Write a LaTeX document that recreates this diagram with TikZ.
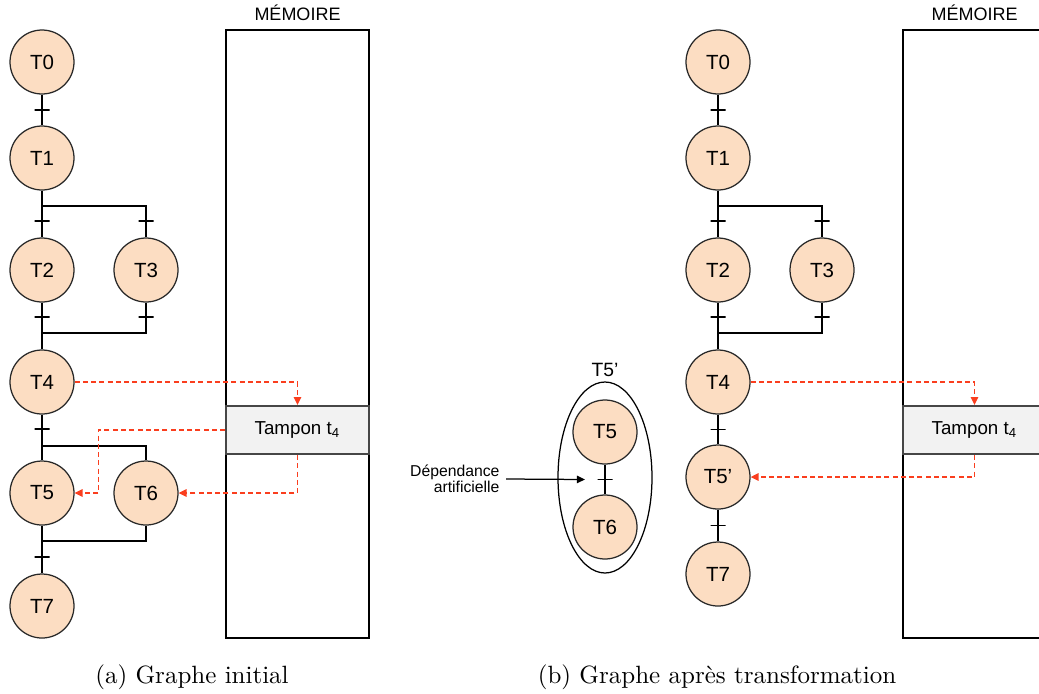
\documentclass[tikz,border=0pt]{standalone}
\usepackage{fontspec}
\newfontfamily\arial{Liberation Sans}
\usetikzlibrary{shapes.geometric,arrows.meta}

\definecolor{peche}{RGB}{252,221,194}
\definecolor{rougeflux}{RGB}{250,62,30}
\definecolor{grisfond}{RGB}{242,242,242}
\definecolor{grisbord}{RGB}{70,70,70}
\definecolor{bordtache}{RGB}{40,40,40}

\begin{document}
\begin{tikzpicture}[x=0.4pt, y=-0.4pt, node distance=44.8pt,
  tache/.style={draw=bordtache, fill=peche, circle, minimum size=25.6pt, inner sep=0pt, line width=0.5pt, font=\arial\fontsize{8.2}{9.8}\selectfont},
  barre/.style={draw, minimum width=6pt, minimum height=0pt, inner sep=0pt, line width=0.5pt},
  lien/.style={line width=0.5pt},
  memoire/.style={draw, line width=0.6pt, minimum width=57.2pt, minimum height=243.2pt, inner sep=0pt},
  tampon/.style={draw=grisbord, fill=grisfond, line width=0.8pt, minimum width=57.2pt, minimum height=19.2pt, inner sep=0pt, font=\arial\fontsize{7.5}{9}\selectfont},
  titre/.style={inner sep=0pt, font=\arial\fontsize{7.2}{8.6}\selectfont},
  flux/.style={draw=rougeflux, line width=0.6pt, dash pattern=on 2pt off 1.3pt, -{Triangle[length=3.2pt,width=3pt]}},
  fleche/.style={draw, line width=0.5pt, -{Triangle[length=3.2pt,width=3pt]}},
  legende/.style={font=\fontsize{10}{12}\selectfont}]
\clip (0,0) rectangle (1039,693);

% (a) graphe initial
\node (a0) [tache] at (42,62) {T0};
\node (a1) [tache, node distance=38.4pt, below of=a0] {T1};
\node (a2) [tache, below of=a1] {T2};
\node (a3) [tache, node distance=41.6pt, right of=a2] {T3};
\node (a4) [tache, below of=a2] {T4};
\node (a5) [tache, node distance=44.4pt, below of=a4] {T5};
\node (a6) [tache, node distance=41.6pt, right of=a5] {T6};
\node (a7) [tache, node distance=45.2pt, below of=a5] {T7};
\coordinate [node distance=19.2pt, below of=a1] (f1);
\coordinate [node distance=25.2pt, below of=a2] (j1);
\coordinate [node distance=25.6pt, below of=a4] (f2);
\coordinate [node distance=19.2pt, below of=a5] (j2);
\draw[lien] (a0) -- (a1) node[barre, midway] (s01) {};
\draw[lien] (a1) -- (f1) -| (a3);
\draw[lien] (f1) -- (a2);
\draw[lien] (a2) -- (j1) -- (a4);
\draw[lien] (a3) |- (j1);
\draw[lien] (a4) -- (f2) -| (a6);
\draw[lien] (f2) -- (a5);
\draw[lien] (a5) -- (j2) -- (a7);
\draw[lien] (a6) |- (j2);
\node (s12) [barre, node distance=6pt, below of=f1] {};
\node (s13) [barre] at (s12 -| a3) {};
\node (s24) [barre, node distance=6.4pt, above of=j1] {};
\node (s34) [barre] at (s24 -| a3) {};
\node (s45) [barre, node distance=6.8pt, above of=f2] {};
\node (s57) [barre, node distance=6.4pt, below of=j2] {};

\node (mem1) [memoire] at (297.5,334) {};
\node (titre1) [titre, above=3.2pt] at (mem1.north) {MÉMOIRE};
\node (tamp1) [tampon] at (297.5,430) {Tampon t\textsubscript{4}};
\draw[flux] (a4) -| (tamp1.north);
\draw[flux] (tamp1.west) -| ([xshift=9.6pt]a5.east) -- (a5);
\draw[flux] (tamp1.south) |- (a6);

% regroupement T5'
\node (grp) [draw, ellipse, line width=0.5pt, minimum width=37.6pt, minimum height=76.4pt, inner sep=0pt] at (605,477.5) {};
\node (grplbl) [titre, font=\arial\fontsize{7.7}{9.2}\selectfont, above=1.6pt] at (grp.north) {T5’};
\node (m5) [tache] at (605,432) {T5};
\node (m6) [tache, node distance=38pt, below of=m5] {T6};
\draw[lien] (m5) -- (m6) node[barre, midway] (s56) {};
\node (dep) [anchor=east, align=right, inner sep=2.4pt, font=\arial\fontsize{6.3}{6.4}\selectfont] at (506,479) {Dépendance\\artificielle};
\draw[fleche] (dep.east) -- ([xshift=-4.8pt]s56.west);

% (b) graphe apres transformation
\node (b0) [tache] at (718,62) {T0};
\node (b1) [tache, node distance=38.4pt, below of=b0] {T1};
\node (b2) [tache, below of=b1] {T2};
\node (b3) [tache, node distance=41.6pt, right of=b2] {T3};
\node (b4) [tache, below of=b2] {T4};
\node (b5) [tache, node distance=38pt, below of=b4] {T5’};
\node (b7) [tache, node distance=38.8pt, below of=b5] {T7};
\coordinate [node distance=19.2pt, below of=b1] (f3);
\coordinate [node distance=25.2pt, below of=b2] (j3);
\draw[lien] (b0) -- (b1) node[barre, midway] (t01) {};
\draw[lien] (b1) -- (f3) -| (b3);
\draw[lien] (f3) -- (b2);
\draw[lien] (b2) -- (j3) -- (b4);
\draw[lien] (b3) |- (j3);
\draw[lien] (b4) -- (b5) node[barre, midway] (t45) {};
\draw[lien] (b5) -- (b7) node[barre, midway] (t57) {};
\node (t12) [barre, node distance=6pt, below of=f3] {};
\node (t13) [barre] at (t12 -| b3) {};
\node (t24) [barre, node distance=6.4pt, above of=j3] {};
\node (t34) [barre] at (t24 -| b3) {};

\node (mem2) [memoire] at (974.5,334) {};
\node (titre2) [titre, above=3.2pt] at (mem2.north) {MÉMOIRE};
\node (tamp2) [tampon] at (974.5,430) {Tampon t\textsubscript{4}};
\draw[flux] (b4) -| (tamp2.north);
\draw[flux] (tamp2.south) |- (b5);

\node (capa) [legende] at (192,677) {(a) Graphe initial};
\node (capb) [legende] at (717,677) {(b) Graphe après transformation};
\end{tikzpicture}
\end{document}
